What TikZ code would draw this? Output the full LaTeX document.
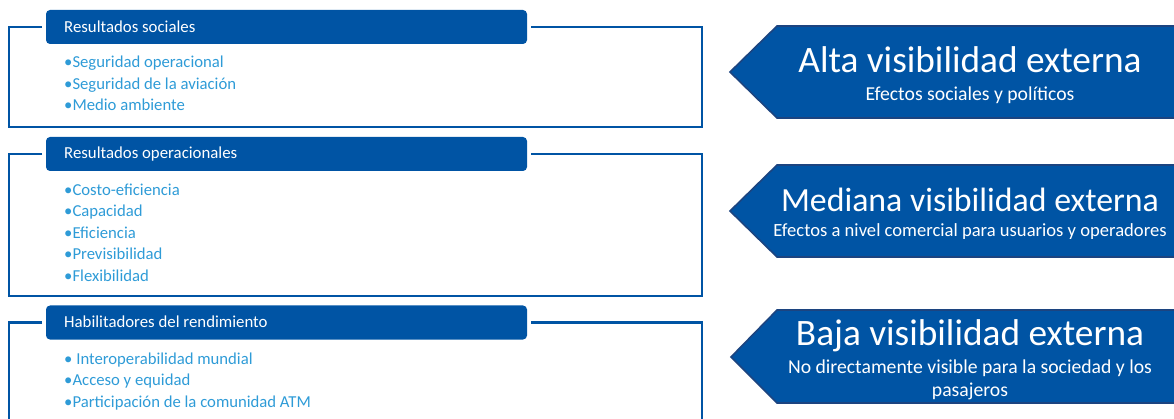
\documentclass[tikz,border=0pt]{standalone}
\usepackage{fontspec}
\setmainfont{Carlito}
\definecolor{tabblue}{RGB}{0,84,164}
\definecolor{edgeblue}{RGB}{28,68,128}
\definecolor{itemblue}{RGB}{46,155,215}
\tikzset{
  tabbox/.style={fill=tabblue, rounded corners=4pt, minimum width=481pt, minimum height=34pt, inner sep=0pt},
  tabtext/.style={anchor=base west, inner sep=0pt, text=white, font=\fontsize{16.8}{19}\selectfont},
  itemtext/.style={anchor=base west, inner sep=0pt, text=itemblue, font=\fontsize{16.7}{19}\selectfont},
  frameline/.style={draw=tabblue, line width=2.6pt, line join=miter},
  arrowshape/.style={fill=tabblue, draw=edgeblue, line width=1.6pt, line join=miter},
  bigtext/.style={anchor=base, inner sep=0pt, text=white, font=\fontsize{37.3}{42}\selectfont},
  midtext/.style={anchor=base, inner sep=0pt, text=white, font=\fontsize{33.8}{38}\selectfont},
  subtext/.style={anchor=base, inner sep=0pt, text=white, font=\fontsize{19.7}{22}\selectfont},
  midsub/.style={anchor=base, inner sep=0pt, text=white, font=\fontsize{18.6}{22}\selectfont}
}
\begin{document}
\begin{tikzpicture}[x=1pt,y=-1pt]
\useasboundingbox (0,0) rectangle (1174,419);
\clip (0,0) rectangle (1174,419);
% ---- Box 1
\draw[frameline] (42,27) -- (9,27) -- (9,127) -- (702,127) -- (702,27) -- (531,27);
\node[tabbox] (tab1) at (286.5,27) {};
\node[tabtext] (h1) at (64,32.3) {Resultados sociales};
\node[itemtext] (i11) at (64,68) {•Seguridad operacional};
\node[itemtext] (i12) at (64,89.5) {•Seguridad de la aviación};
\node[itemtext] (i13) at (64,111) {•Medio ambiente};
% ---- Box 2
\draw[frameline] (42,154) -- (9,154) -- (9,296) -- (702,296) -- (702,154) -- (531,154);
\node[tabbox] (tab2) at (286.5,154) {};
\node[tabtext] (h2) at (64,159) {Resultados operacionales};
\node[itemtext] (i21) at (64,195.5) {•Costo-eficiencia};
\node[itemtext] (i22) at (64,217) {•Capacidad};
\node[itemtext] (i23) at (64,238.5) {•Eficiencia};
\node[itemtext] (i24) at (64,260) {•Previsibilidad};
\node[itemtext] (i25) at (64,281.5) {•Flexibilidad};
% ---- Box 3
\draw[frameline] (42,322.5) -- (9,322.5) -- (9,430);
\draw[frameline] (531,322.5) -- (702,322.5) -- (702,430);
\node[tabbox] (tab3) at (286.5,322.5) {};
\node[tabtext] (h3) at (64,327) {Habilitadores del rendimiento};
\node[itemtext] (i31) at (64,364) {• Interoperabilidad mundial};
\node[itemtext] (i32) at (64,385.5) {•Acceso y equidad};
\node[itemtext] (i33) at (64,407) {•Participación de la comunidad ATM};
% ---- Arrows
\draw[arrowshape] (730,72) -- (777,26) -- (1180,26) -- (1180,118) -- (777,118) -- cycle;
\node[bigtext] (a1) at (970,73) {Alta visibilidad externa};
\node[subtext] (a1s) at (970,101) {Efectos sociales y políticos};
\draw[arrowshape] (730,211) -- (777,165) -- (1180,165) -- (1180,257) -- (777,257) -- cycle;
\node[midtext] (a2) at (970,212) {Mediana visibilidad externa};
\node[midsub] (a2s) at (970,237) {Efectos a nivel comercial para usuarios y operadores};
\draw[arrowshape] (731,357) -- (777,310) -- (1180,310) -- (1180,403) -- (777,403) -- cycle;
\node[bigtext] (a3) at (970,345) {Baja visibilidad externa};
\node[subtext] (a3s) at (970,373) {No directamente visible para la sociedad y los};
\node[subtext] (a3t) at (970,396) {pasajeros};
\end{tikzpicture}
\end{document}
